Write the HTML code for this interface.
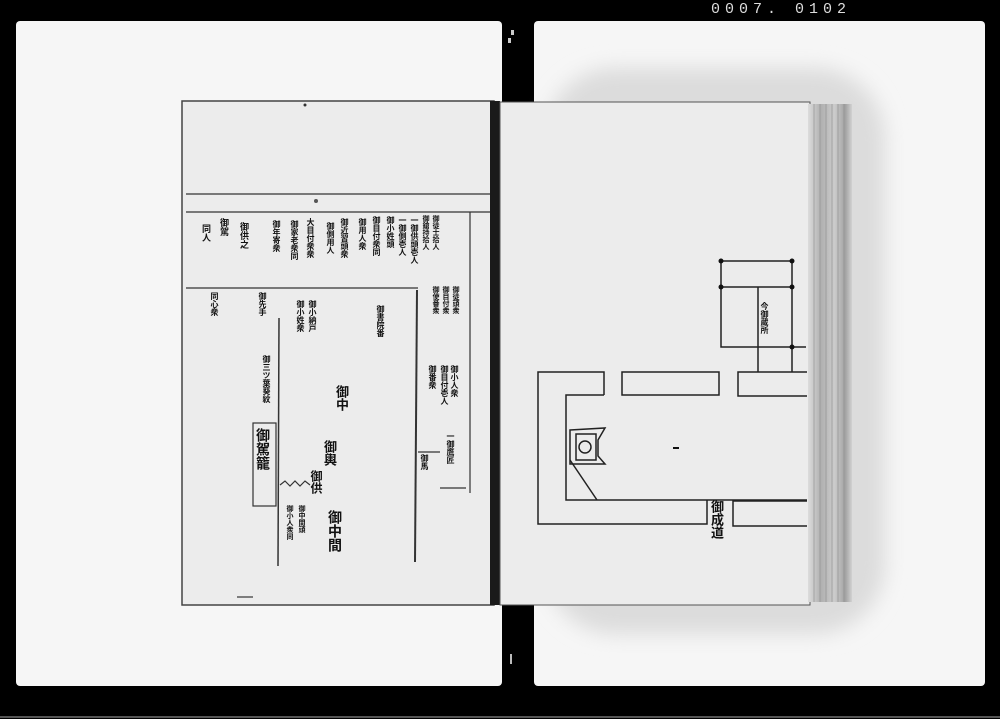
<!DOCTYPE html>
<html><head><meta charset="utf-8">
<style>
html,body{margin:0;padding:0;background:#000;}
body{width:1000px;height:719px;position:relative;overflow:hidden;font-family:"Liberation Sans","Noto Sans CJK JP",sans-serif;}
.abs{position:absolute;}
.v{position:absolute;writing-mode:vertical-rl;font-family:"Noto Sans CJK JP",sans-serif;font-weight:bold;color:#111;line-height:1;letter-spacing:0;}
</style></head><body>
<div class="abs" style="left:711px;top:1px;color:#ddd;font:15px 'Liberation Mono',monospace;letter-spacing:5px;">0007. 0102</div>
<div class="abs" style="left:16px;top:21px;width:486px;height:665px;background:#f6f6f6;border-radius:4px;"></div>
<div class="abs" style="left:534px;top:21px;width:451px;height:665px;background:#f6f6f6;border-radius:4px;"></div>
<div class="abs" style="left:0;top:716px;width:1000px;height:2px;background:#555;"></div>
<div class="abs" style="left:511px;top:30px;width:3px;height:5px;background:#ccc;"></div>
<div class="abs" style="left:508px;top:38px;width:3px;height:5px;background:#ccc;"></div>
<div class="abs" style="left:510px;top:654px;width:2px;height:10px;background:#bbb;"></div>

<svg class="abs" style="left:0;top:0" width="1000" height="719">
  <defs>
    <linearGradient id="edge" x1="0" x2="1">
      <stop offset="0" stop-color="#dcdcdc"/><stop offset="0.3" stop-color="#b0b0b0"/>
      <stop offset="0.6" stop-color="#cccccc"/><stop offset="0.85" stop-color="#a2a2a2"/><stop offset="1" stop-color="#d2d2d2"/>
    </linearGradient>
    <filter id="bl"><feGaussianBlur stdDeviation="10"/></filter>
  </defs>
  <rect x="545" y="68" width="340" height="566" rx="70" fill="#dcdcdc" filter="url(#bl)"/>
  <rect x="182" y="101" width="312" height="504" fill="#ececec" stroke="#444" stroke-width="1.5"/>
  <rect x="490" y="101" width="10" height="504" fill="#1a1a1a"/>
  <rect x="500" y="102" width="310" height="503" fill="#ececec" stroke="#555" stroke-width="1"/>
  <rect x="808" y="104" width="44" height="498" fill="url(#edge)"/>
  <g stroke="#8a8a8a" stroke-width="0.6">
    <line x1="814" y1="104" x2="814" y2="602"/><line x1="820" y1="104" x2="820" y2="602"/>
    <line x1="826" y1="104" x2="826" y2="602"/><line x1="832" y1="104" x2="832" y2="602"/>
    <line x1="838" y1="104" x2="838" y2="602"/><line x1="844" y1="104" x2="844" y2="602"/>
  </g>

  <g stroke="#333" stroke-width="1.2" fill="none">
    <line x1="186" y1="194" x2="490" y2="194"/>
    <line x1="186" y1="212" x2="490" y2="212"/>
    <line x1="186" y1="288" x2="418" y2="288"/>
    <line x1="417" y1="290" x2="415" y2="562" stroke-width="2"/>
    <line x1="279" y1="318" x2="278" y2="566" stroke-width="1.5"/>
    <line x1="470" y1="212" x2="470" y2="493"/>
    <rect x="253" y="423" width="23" height="83"/>
    <polyline points="280,485 285,481 290,486 295,481 300,486 305,481 310,485"/>
    <line x1="418" y1="452" x2="440" y2="452"/>
    <line x1="440" y1="488" x2="466" y2="488"/>
    <line x1="237" y1="597" x2="253" y2="597"/>
  </g>
  <circle cx="316" cy="201" r="2" fill="#555"/>
  <circle cx="305" cy="105" r="1.5" fill="#333"/>

  <g stroke="#222" stroke-width="1.5" fill="none">
    <rect x="721" y="261" width="71" height="86"/>
    <line x1="721" y1="287" x2="792" y2="287"/>
    <line x1="758" y1="287" x2="758" y2="372"/>
    <line x1="792" y1="347" x2="806" y2="347"/>
    <line x1="792" y1="347" x2="792" y2="372"/>
    <polyline points="604,395 604,372 538,372 538,524 707,524 707,500"/>
    <polyline points="604,395 566,395 566,500 807,500"/>
    <rect x="622" y="372" width="97" height="23"/>
    <polyline points="807,372 738,372 738,396 807,396"/>
    <polyline points="807,501 733,501 733,526 807,526"/>
    <line x1="570" y1="460" x2="597" y2="500"/>
    <polygon points="570,430 605,428 598,440 598,456 605,464 570,464"/>
    <rect x="576" y="434" width="20" height="26"/>
    <circle cx="585" cy="447" r="6"/>
  </g>
  <g fill="#111">
    <circle cx="721" cy="261" r="2.5"/><circle cx="792" cy="261" r="2.5"/>
    <circle cx="721" cy="287" r="2.5"/><circle cx="792" cy="287" r="2.5"/>
    <circle cx="792" cy="347" r="2.5"/>
    <rect x="673" y="447" width="6" height="2"/>
  </g>
</svg>

<div class="v" style="left:711px;top:500px;font-size:13px;">御成道</div>
<div class="v" style="left:760px;top:302px;font-size:8px;">今御蔵所</div>

<div class="v" style="left:422px;top:215px;font-size:7px;">御鎗持拾人</div>
<div class="v" style="left:432px;top:215px;font-size:7px;">御徒士拾人</div>
<div class="v" style="left:410px;top:216px;font-size:8px;">一御供頭壱人</div>
<div class="v" style="left:398px;top:216px;font-size:8px;">一御側壱人</div>
<div class="v" style="left:386px;top:216px;font-size:8px;">御小姓頭</div>
<div class="v" style="left:372px;top:216px;font-size:8px;">御目付衆同</div>
<div class="v" style="left:358px;top:218px;font-size:8px;">御用人衆</div>
<div class="v" style="left:340px;top:218px;font-size:8px;">御近習頭衆</div>
<div class="v" style="left:326px;top:222px;font-size:8px;">御側用人</div>
<div class="v" style="left:306px;top:218px;font-size:8px;">大目付衆衆</div>
<div class="v" style="left:290px;top:220px;font-size:8px;">御家老衆同</div>
<div class="v" style="left:272px;top:220px;font-size:8px;">御年寄衆</div>
<div class="v" style="left:240px;top:222px;font-size:9px;">御供之</div>
<div class="v" style="left:220px;top:218px;font-size:9px;">御駕</div>
<div class="v" style="left:202px;top:224px;font-size:9px;">同人</div>
<div class="v" style="left:432px;top:286px;font-size:7px;">御使番衆</div>
<div class="v" style="left:442px;top:286px;font-size:7px;">御目付衆</div>
<div class="v" style="left:452px;top:286px;font-size:7px;">御徒頭衆</div>
<div class="v" style="left:376px;top:305px;font-size:8px;">御書院番</div>
<div class="v" style="left:296px;top:300px;font-size:8px;">御小姓衆</div>
<div class="v" style="left:308px;top:300px;font-size:8px;">御小納戸</div>
<div class="v" style="left:258px;top:292px;font-size:8px;">御先手</div>
<div class="v" style="left:210px;top:292px;font-size:8px;">同心衆</div>
<div class="v" style="left:428px;top:365px;font-size:8px;">御番衆</div>
<div class="v" style="left:440px;top:365px;font-size:8px;">御目付壱人</div>
<div class="v" style="left:450px;top:365px;font-size:8px;">御小人衆</div>
<div class="v" style="left:446px;top:432px;font-size:8px;">一御鷹匠</div>
<div class="v" style="left:262px;top:355px;font-size:8px;">御三ツ葉葵紋</div>
<div class="v" style="left:336px;top:385px;font-size:13px;">御中</div>
<div class="v" style="left:256px;top:428px;font-size:14px;">御駕籠</div>
<div class="v" style="left:324px;top:440px;font-size:13px;">御輿</div>
<div class="v" style="left:310px;top:470px;font-size:12px;">御供</div>
<div class="v" style="left:328px;top:510px;font-size:14px;">御中間</div>
<div class="v" style="left:286px;top:505px;font-size:7px;">御小人衆同</div>
<div class="v" style="left:298px;top:505px;font-size:7px;">御中間頭</div>
<div class="v" style="left:420px;top:454px;font-size:8px;">御馬</div>
</body></html>
